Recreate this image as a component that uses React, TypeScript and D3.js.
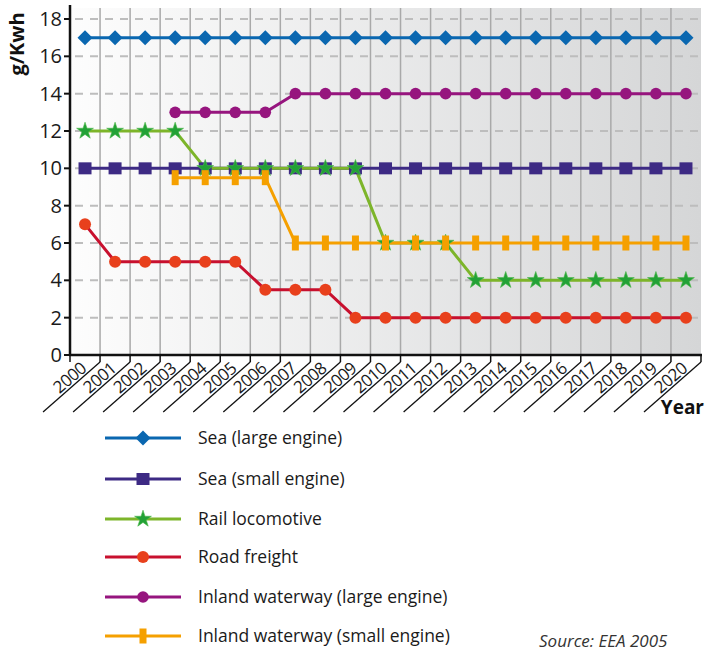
import React from "react";
import * as d3 from "d3";

const years = ["2000","2001","2002","2003","2004","2005","2006","2007","2008","2009","2010","2011","2012","2013","2014","2015","2016","2017","2018","2019","2020"];
const yTicks = [0, 2, 4, 6, 8, 10, 12, 14, 16, 18];

const seaLarge = [17,17,17,17,17,17,17,17,17,17,17,17,17,17,17,17,17,17,17,17,17];
const seaSmall = [10,10,10,10,10,10,10,10,10,10,10,10,10,10,10,10,10,10,10,10,10];
const rail = [12,12,12,12,10,10,10,10,10,10,6,6,6,4,4,4,4,4,4,4,4];
const road = [7,5,5,5,5,5,3.5,3.5,3.5,2,2,2,2,2,2,2,2,2,2,2,2];
const inlandLarge = [null,null,null,13,13,13,13,14,14,14,14,14,14,14,14,14,14,14,14,14,14];
const inlandSmall = [null,null,null,9.5,9.5,9.5,9.5,6,6,6,6,6,6,6,6,6,6,6,6,6,6];

type Series = { name: string; values: (number | null)[]; line: string; fill: string; marker: string };
const series: Series[] = [
  { name: "Sea (large engine)", values: seaLarge, line: "#0a67b0", fill: "#0a67b0", marker: "diamond" },
  { name: "Sea (small engine)", values: seaSmall, line: "#3d2a84", fill: "#3d2a84", marker: "square" },
  { name: "Rail locomotive", values: rail, line: "#7db52a", fill: "#22a136", marker: "star" },
  { name: "Road freight", values: road, line: "#c8102e", fill: "#e8401c", marker: "circle" },
  { name: "Inland waterway (large engine)", values: inlandLarge, line: "#96157e", fill: "#96157e", marker: "hex" },
  { name: "Inland waterway (small engine)", values: inlandSmall, line: "#f5a000", fill: "#f5a000", marker: "bar" },
];

const FONT = "'Open Sans', 'Noto Sans', sans-serif";

function Marker({ type, x, y, fill }: { type: string; x: number; y: number; fill: string }) {
  if (type === "diamond") {
    const s = 7.5;
    return <path d={`M${x},${y - s}L${x + s},${y}L${x},${y + s}L${x - s},${y}Z`} fill={fill} />;
  }
  if (type === "square") {
    return <rect x={x - 6.5} y={y - 6} width={13} height={12} fill={fill} />;
  }
  if (type === "star") {
    const p = d3.symbol().type(d3.symbolStar).size(88)();
    return <path d={p || ""} transform={`translate(${x},${y})`} fill={fill} stroke="#4db848" strokeWidth={0.6} />;
  }
  if (type === "circle") {
    return <circle cx={x} cy={y} r={6} fill={fill} />;
  }
  if (type === "hex") {
    return <circle cx={x} cy={y} r={5.8} fill={fill} />;
  }
  return <rect x={x - 3.5} y={y - 7.5} width={7} height={15} fill={fill} />;
}

export default function App() {
  const left = 70, right = 701, top = 8, bottom = 355;
  const x = d3.scaleBand<string>().domain(years).range([left, right]).padding(0);
  const y = d3.scaleLinear().domain([0, 18]).range([bottom, 19]);
  const cx = (yr: string) => (x(yr) as number) + x.bandwidth() / 2;

  const lineGen = d3
    .line<number | null>()
    .defined((d) => d !== null)
    .x((_, i) => cx(years[i]))
    .y((d) => y(d as number));

  const boundaries = years.map((yr) => x(yr) as number).concat([right]);

  const legendY = [438, 479, 519, 557, 597, 636];

  return (
    <svg width={708} height={654} style={{ position: "absolute", left: 0, top: 0, background: "#fff" }} fontFamily={FONT}>
      <defs>
        <linearGradient id="bg" x1="0" x2="1" y1="0" y2="0">
          <stop offset="0" stopColor="#fdfdfd" />
          <stop offset="1" stopColor="#d5d6d7" />
        </linearGradient>
      </defs>
      <rect x={left} y={top} width={right - left} height={bottom - top} fill="url(#bg)" />
      {boundaries.slice(1, -1).map((b, i) => (
        <line key={"vg" + i} x1={b} x2={b} y1={top} y2={bottom} stroke="#a9a9a9" strokeWidth={1.5} />
      ))}
      {yTicks.slice(1).map((t) => (
        <line key={"hg" + t} x1={left} x2={right} y1={y(t)} y2={y(t)} stroke="#bdbdbd" strokeWidth={2} strokeDasharray="8,7" strokeDashoffset={-5} />
      ))}
      <line x1={left} x2={left} y1={5} y2={bottom + 1} stroke="#111" strokeWidth={2.5} />
      <line x1={left - 1} x2={right + 1} y1={bottom} y2={bottom} stroke="#111" strokeWidth={2.5} />
      {yTicks.map((t) => (
        <g key={"yt" + t}>
          <line x1={left - 6} x2={left} y1={y(t)} y2={y(t)} stroke="#111" strokeWidth={2} />
          <text x={left - 8} y={y(t)} dy="0.35em" textAnchor="end" fontSize={20} fill="#1a1a1a">
            {t}
          </text>
        </g>
      ))}
      {boundaries.map((b, i) => (
        <line key={"xt" + i} x1={b} x2={b} y1={bottom} y2={bottom + 7} stroke="#111" strokeWidth={1.5} />
      ))}
      {years.map((yr, i) => {
        const b = boundaries[i + 1];
        return (
          <g key={"xl" + yr}>
            <line x1={b} x2={b - 57} y1={bottom + 7} y2={bottom + 57} stroke="#111" strokeWidth={1.3} />
            <text
              transform={`translate(${b - 11},${bottom + 17}) rotate(-41)`}
              dy={-2.5}
              textAnchor="end"
              fontSize={17}
              letterSpacing={-0.5}
              fill="#1a1a1a"
            >
              {yr}
            </text>
          </g>
        );
      })}
      {series.map((s) => (
        <path key={"l" + s.name} d={lineGen(s.values) || ""} fill="none" stroke={s.line} strokeWidth={3} />
      ))}
      {series.map((s) =>
        s.values.map((v, i) =>
          v === null ? null : <Marker key={s.name + i} type={s.marker} x={cx(years[i])} y={y(v)} fill={s.fill} />
        )
      )}
      <text transform="translate(24,44) rotate(-90)" textAnchor="middle" fontSize={20} fontWeight="bold" fill="#111">
        g/Kwh
      </text>
      <text x={704} y={414} textAnchor="end" fontSize={19} fontWeight="bold" fill="#111">
        Year
      </text>
      {series.map((s, i) => (
        <g key={"lg" + s.name}>
          <line x1={105} x2={181} y1={legendY[i]} y2={legendY[i]} stroke={s.line} strokeWidth={3} />
          <Marker type={s.marker} x={143} y={legendY[i]} fill={s.fill} />
          <text x={198} y={legendY[i]} dy="0.35em" fontSize={17.5} fill="#1a1a1a">
            {s.name}
          </text>
        </g>
      ))}
      <text x={539} y={647} fontSize={17} fontStyle="italic" fill="#333">
        Source: EEA 2005
      </text>
    </svg>
  );
}
